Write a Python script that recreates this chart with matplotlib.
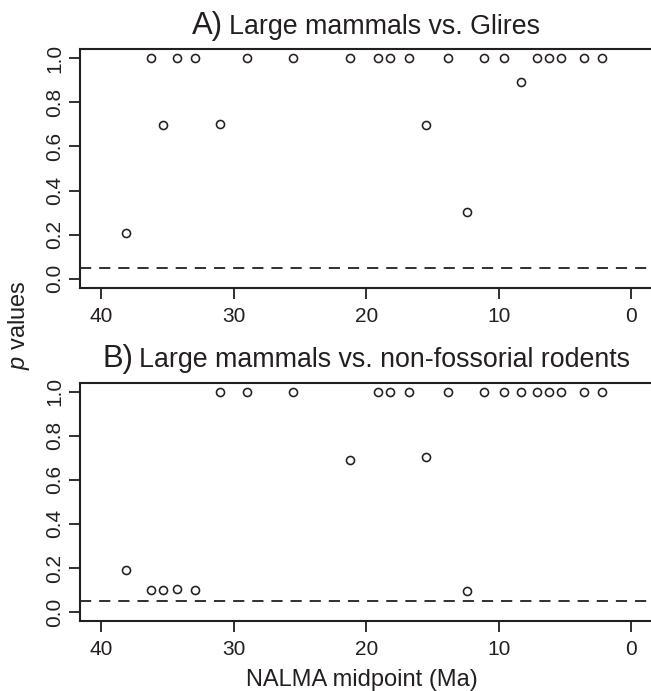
import numpy as np
import matplotlib
matplotlib.use("Agg")
import matplotlib.pyplot as plt

plt.rcParams['font.family'] = ['Liberation Sans', 'DejaVu Sans']
plt.rcParams['mathtext.fontset'] = 'custom'
plt.rcParams['mathtext.it'] = 'Liberation Sans:italic'
plt.rcParams['mathtext.rm'] = 'Liberation Sans'

INK = '#231f20'

# NALMA midpoints (Ma), shared by both panels
ages = [38.1, 36.2, 35.3, 34.3, 32.9, 31.0, 29.0, 25.5, 21.2, 19.1, 18.2, 16.8,
        15.5, 13.8, 12.4, 11.1, 9.6, 8.3, 7.1, 6.2, 5.3, 3.6, 2.2]

# p values, A) large mammals vs. Glires
p_glires = [0.207, 1.0, 0.698, 1.0, 1.0, 0.702, 1.0, 1.0, 1.0, 1.0, 1.0, 1.0,
            0.697, 1.0, 0.302, 1.0, 1.0, 0.894, 1.0, 1.0, 1.0, 1.0, 1.0]

# p values, B) large mammals vs. non-fossorial rodents
p_rodents = [0.193, 0.099, 0.099, 0.105, 0.099, 1.0, 1.0, 1.0, 0.690, 1.0, 1.0, 1.0,
             0.705, 1.0, 0.098, 1.0, 1.0, 1.0, 1.0, 1.0, 1.0, 1.0, 1.0]

alpha = 0.05
x_ticks = [0, 10, 20, 30, 40]
y_ticks = [0.0, 0.2, 0.4, 0.6, 0.8, 1.0]

panels = [("A)", "Large mammals vs. Glires", p_glires),
          ("B)", "Large mammals vs. non-fossorial rodents", p_rodents)]

W, H = 651, 691
fig = plt.figure(figsize=(W / 100, H / 100), dpi=100)

# axes boxes in pixels: (left, top, right, bottom)
boxes = [(79.75, 49.3, 652.7, 287.7), (79.75, 382.7, 652.7, 621.0)]


def px_box(l, t, r, b):
    return [l / W, 1 - b / H, (r - l) / W, (b - t) / H]


axes = []
for (tag, name, vals), box in zip(panels, boxes):
    ax = fig.add_axes(px_box(*box))
    ax.plot(ages, vals, 'o', mfc='none', mec=INK, ms=5.8, mew=1.15, clip_on=False)
    ax.axhline(alpha, color=INK, lw=1.3, ls=(0, (6.2, 4.4)))
    ax.set_xlim(41.6, -1.6)
    ax.set_ylim(-0.04, 1.04)
    ax.set_xticks(x_ticks)
    ax.set_xticklabels([str(t) for t in x_ticks])
    ax.set_yticks(y_ticks)
    ax.set_yticklabels([f"{t:.1f}" for t in y_ticks], rotation=90, va='center')
    ax.tick_params(axis='both', direction='out', length=7.8, width=1.3,
                   color=INK, labelcolor=INK, labelsize=15)
    ax.tick_params(axis='x', pad=6)
    ax.tick_params(axis='y', pad=3.6)
    for s in ax.spines.values():
        s.set_linewidth(1.5)
        s.set_color(INK)
    axes.append(ax)

# titles: big panel letter followed by smaller text, centred over the axes
fig.canvas.draw()
renderer = fig.canvas.get_renderer()
for (tag, name, vals), box in zip(panels, boxes):
    l, t, r, b = box
    base_y = 1 - (t - 15.5) / H
    t1 = fig.text(0, base_y, tag, fontsize=22.4, color=INK, va='baseline', ha='left')
    t2 = fig.text(0, base_y, name, fontsize=19.3, color=INK, va='baseline', ha='left')
    w1 = t1.get_window_extent(renderer).width
    w2 = t2.get_window_extent(renderer).width
    gap = 6
    total = w1 + gap + w2
    cx = 366
    x0 = cx - total / 2
    t1.set_x(x0 / W)
    t2.set_x((x0 + w1 + gap) / W)

fig.text(362 / W, 1 - 686 / H, "NALMA midpoint (Ma)",
         fontsize=17, color=INK, ha='center', va='baseline')
fig.text(25 / W, 1 - 325 / H, "$p$ values", fontsize=17, color=INK,
         rotation=90, rotation_mode='anchor', ha='center', va='baseline')

fig.savefig("out.png", dpi=100)
